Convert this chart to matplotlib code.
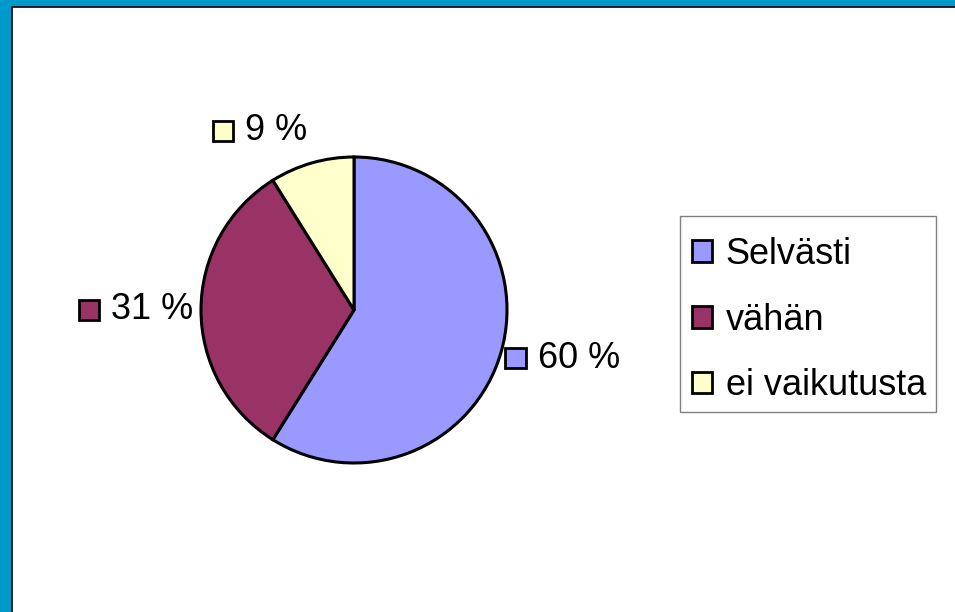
import numpy as np
import matplotlib
matplotlib.use("Agg")
import matplotlib.pyplot as plt
from matplotlib.patches import Rectangle
from matplotlib.offsetbox import DrawingArea, TextArea, HPacker, AnnotationBbox

# data (wedge sizes as measured in the picture, labels as printed)
categories = ["Selvästi", "vähän", "ei vaikutusta"]
shares = [58.9, 32.2, 8.9]
pct_labels = ["60 %", "31 %", "9 %"]
colors = ["#9999FF", "#993366", "#FFFFCC"]

# layout
W, H = 955, 612
cx, cy, rad = 354, 310, 153       # pie centre / radius in pixels
label_r = [1.03, 1.05, 1.105]      # label anchor distance (pie radii)
font = "Liberation Sans"
fs = 26

fig = plt.figure(figsize=(W / 100, H / 100), dpi=100, facecolor="#0099CC")

# white panel with black top/left border
fig.patches.append(Rectangle((11.5 / W, -0.1), 1.2, 1.1 - 6.5 / H,
                             transform=fig.transFigure, facecolor="white",
                             edgecolor="black", linewidth=1.2, zorder=-5))

half = 170
ax = fig.add_axes([(cx - half) / W, (H - cy - half) / H, 2 * half / W, 2 * half / H])

wedges, _ = ax.pie(shares, colors=colors, startangle=90, counterclock=False,
                   radius=1, wedgeprops=dict(edgecolor="black", linewidth=2.2))
ax.set_xlim(-half / rad, half / rad)
ax.set_ylim(-half / rad, half / rad)
ax.axis("off")

# percentage labels with a colour key square
for w, lab, col, r in zip(wedges, pct_labels, colors, label_r):
    mid = np.deg2rad((w.theta1 + w.theta2) / 2)
    c, s = np.cos(mid), np.sin(mid)
    ax_x = 0 if c > 0.5 else 1
    ay = 0.5 * (1 - s)
    da = DrawingArea(14.5, 14.5, 0, 0)
    da.add_artist(Rectangle((0, 0), 14.5, 14.5, facecolor=col,
                            edgecolor="black", linewidth=2))
    ta = TextArea(lab, textprops=dict(fontsize=fs, family=font))
    box = HPacker(children=[da, ta], align="center", pad=0, sep=9)
    ab = AnnotationBbox(box, (r * c, r * s), xycoords="data",
                        box_alignment=(ax_x, ay), frameon=False, pad=0)
    ax.add_artist(ab)

# legend: frame drawn separately, entries from the library legend
fig.patches.append(Rectangle((680 / W, 1 - 412 / H), 256 / W, 196 / H,
                             transform=fig.transFigure, facecolor="white",
                             edgecolor="#808080", linewidth=1, zorder=-1))
handles = [Rectangle((0, 0), 1, 1, facecolor=col, edgecolor="black", linewidth=2)
           for col in colors]
leg = fig.legend(handles, categories, loc="upper left",
                 bbox_to_anchor=(692 / W, 1 - 237 / H),
                 prop=dict(family=font, size=fs), frameon=False,
                 handlelength=0.55, handleheight=0.55, handletextpad=0.38,
                 borderpad=0, labelspacing=0.85, borderaxespad=0)

fig.savefig("out.png", dpi=100, facecolor=fig.get_facecolor())
